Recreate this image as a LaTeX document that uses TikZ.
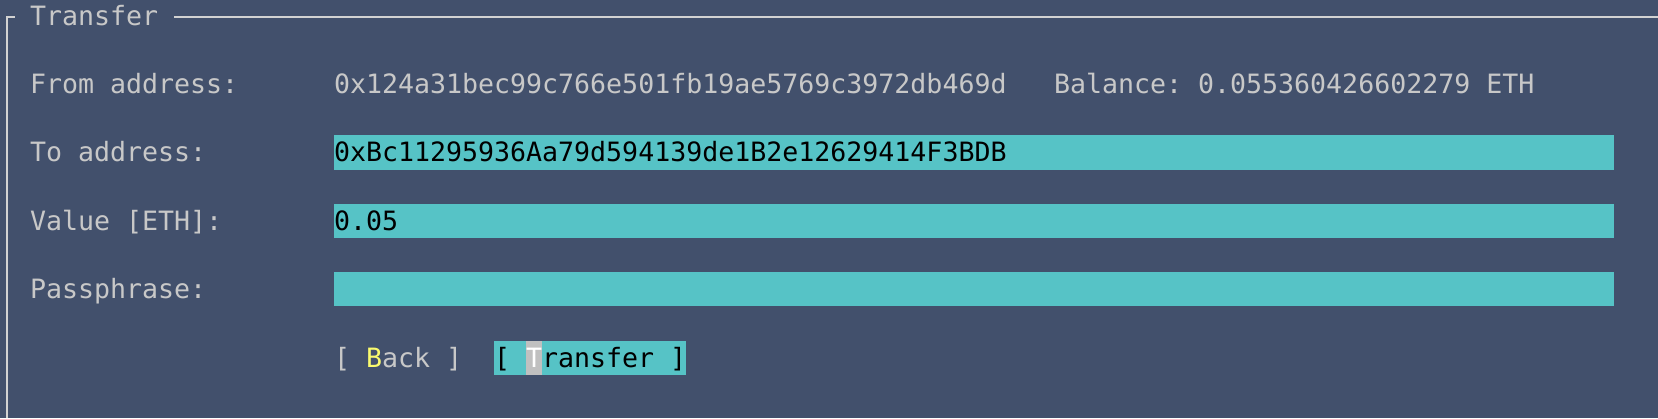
\documentclass[tikz,border=0pt]{standalone}
\usepackage{fontspec}
\newfontfamily\term{DejaVu Sans Mono}
\frenchspacing
\definecolor{bg}{RGB}{66,80,108}
\definecolor{fg}{RGB}{200,200,200}
\definecolor{teal}{RGB}{86,195,198}
\definecolor{yb}{RGB}{250,250,110}
\definecolor{hl}{RGB}{192,192,192}
\definecolor{frame}{RGB}{210,210,210}
\tikzset{
  txt/.style={anchor=base west, inner sep=0pt, outer sep=0pt, text=fg, font=\term\frenchspacing\fontsize{26.6}{30}\selectfont},
  intxt/.style={txt, text=black},
  field/.style={fill=teal, draw=none},
}
\begin{document}
\begin{tikzpicture}[x=1pt,y=-1pt]
\fill[bg] (0,0) rectangle (1658,418);
\useasboundingbox (0,0) rectangle (1658,418);
% frame
\coordinate (fc) at (7,17);
\coordinate (fb) at (7,418);
\coordinate (fr) at (15,17);
\coordinate (ls) at (174,17);
\coordinate (le) at (1658,17);
\draw[frame, line width=2pt] (fb) -- (fc) -- (fr);
\draw[frame, line width=2pt] (ls) -- (le);
\node[txt] (title) at (30,25) {Transfer};
% From row
\node[txt] (fromlbl) at (30,93.4) {From address:};
\node[txt] (fromval) at (334,93.4) {0x124a31bec99c766e501fb19ae5769c3972db469d};
\node[txt] (bal) at (1054,93.4) {Balance: 0.055360426602279 ETH};
% To row
\fill[field] (334,135.3) rectangle (1614,169.5);
\node[txt] (tolbl) at (30,161.8) {To address:};
\node[intxt] (toval) at (334,161.8) {0xBc11295936Aa79d594139de1B2e12629414F3BDB};
% Value row
\fill[field] (334,203.7) rectangle (1614,237.9);
\node[txt] (vallbl) at (30,230.2) {Value [ETH]:};
\node[intxt] (valval) at (334,230.2) {0.05};
% Passphrase row
\fill[field] (334,272.1) rectangle (1614,306.3);
\node[txt] (passlbl) at (30,298.6) {Passphrase:};
% Buttons
\node[txt] (back) at (334,367) {[ \textcolor{yb}{B}ack ]};
\fill[field] (494,340.5) rectangle (686,374.7);
\fill[hl] (526,340.5) rectangle (542,374.7);
\node[intxt] (xfer) at (494,367) {[ \textcolor{white}{T}ransfer ]};
\end{tikzpicture}
\end{document}
